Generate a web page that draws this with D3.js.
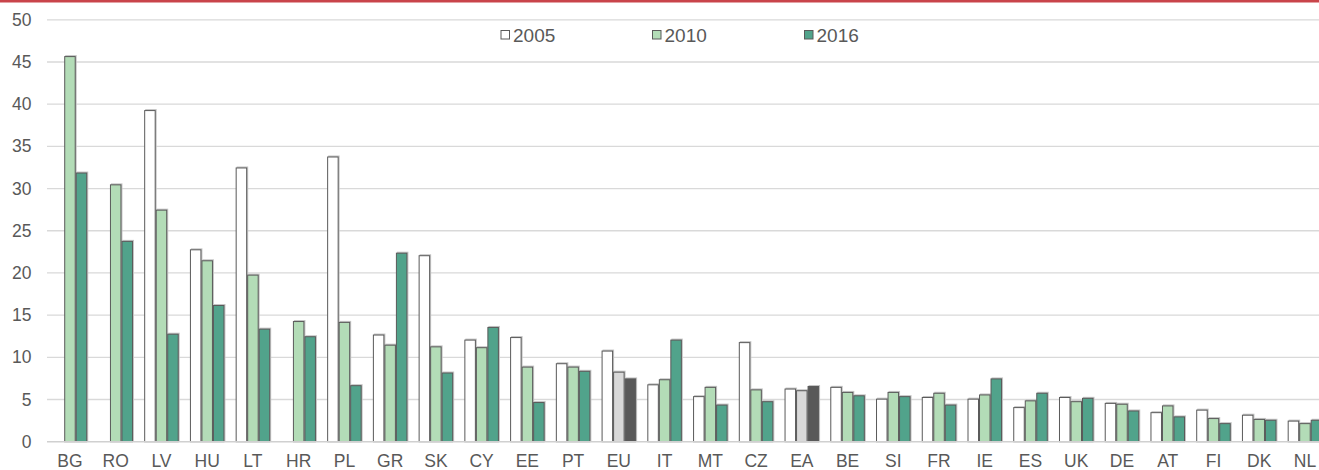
<!DOCTYPE html>
<html>
<head>
<meta charset="utf-8">
<script src="https://cdn.jsdelivr.net/npm/d3@7"></script>
<style>
  html, body { margin: 0; padding: 0; background: #fff; overflow: hidden; }
  svg { display: block; font-family: "Liberation Sans", Arial, sans-serif; }
</style>
</head>
<body>
<svg id="chart" width="1319" height="470"></svg>
<script>
// Countries in display order
const categories = ["BG","RO","LV","HU","LT","HR","PL","GR","SK","CY","EE","PT","EU","IT","MT","CZ","EA","BE","SI","FR","IE","ES","UK","DE","AT","FI","DK","NL"];
const seriesNames = ["2005", "2010", "2016"];
// Values per year (null = not available)
const values2005 = [null, null, 39.3, 22.8, 32.5, null, 33.8, 12.7, 22.1, 12.1, 12.4, 9.3, 10.8, 6.8, 5.4, 11.8, 6.3, 6.5, 5.1, 5.3, 5.1, 4.1, 5.3, 4.6, 3.5, 3.8, 3.2, 2.5];
const values2010 = [45.7, 30.5, 27.5, 21.5, 19.8, 14.3, 14.2, 11.5, 11.3, 11.2, 8.9, 8.9, 8.3, 7.4, 6.5, 6.2, 6.1, 5.9, 5.9, 5.8, 5.6, 4.9, 4.8, 4.5, 4.3, 2.8, 2.7, 2.2];
const values2016 = [31.9, 23.8, 12.8, 16.2, 13.4, 12.5, 6.7, 22.4, 8.2, 13.6, 4.7, 8.4, 7.5, 12.1, 4.4, 4.8, 6.6, 5.5, 5.4, 4.4, 7.5, 5.8, 5.2, 3.7, 3.0, 2.2, 2.6, 2.6];
const yTicks = [0, 5, 10, 15, 20, 25, 30, 35, 40, 45, 50];

const series = [values2005, values2010, values2016];
const fills = ["#ffffff", "#b3dcb7", "#51a38b"];
const aggFills = ["#ffffff", "#d9d9d9", "#595959"];
const aggregates = new Set(["EU", "EA"]);

const svg = d3.select("#chart");
const W = 1319, H = 470;

// Accent rule across the top
svg.append("rect").attr("x", 0).attr("y", 0).attr("width", W).attr("height", 2.5).attr("fill", "#c9444a");

const step = 45.74;
const x0 = 47.1;
const x = d3.scaleBand()
  .domain(categories)
  .range([x0, x0 + categories.length * step])
  .paddingInner(0.245)
  .paddingOuter(0.1225);
const xs = d3.scaleBand().domain(seriesNames).range([0, x.bandwidth()]);
const y = d3.scaleLinear().domain([0, 50]).range([441.7, 19.8]);

// Gridlines
svg.append("g").selectAll("line").data(yTicks.filter(t => t > 0)).join("line")
  .attr("x1", 47).attr("x2", W)
  .attr("y1", d => y(d)).attr("y2", d => y(d))
  .attr("stroke", "#d9d9d9").attr("stroke-width", 1.3);

// Y axis labels
const yAxis = d3.axisLeft(y).tickValues(yTicks).tickSize(0).tickPadding(0);
const gy = svg.append("g").attr("transform", "translate(31.5,0)").call(yAxis);
gy.select(".domain").remove();
gy.selectAll("text").attr("fill", "#595959").style("font-size", "17.5px")
  .style("font-family", "Liberation Sans, Arial, sans-serif");

// Bars
const barData = [];
categories.forEach((c, i) => {
  series.forEach((vals, s) => {
    if (vals[i] != null) barData.push({ c, s, v: vals[i] });
  });
});

const gBars = svg.append("g");
// soft shadow behind each bar
gBars.selectAll("rect.shadow").data(barData).join("rect")
  .attr("class", "shadow")
  .attr("x", d => x(d.c) + xs(seriesNames[d.s]) + 1)
  .attr("y", d => y(d.v) - 1)
  .attr("width", xs.bandwidth())
  .attr("height", d => y(0) - y(d.v) + 1)
  .attr("fill", "#c4c4c4");
gBars.selectAll("rect.bar").data(barData).join("rect")
  .attr("class", "bar")
  .attr("x", d => x(d.c) + xs(seriesNames[d.s]) + 0.5)
  .attr("y", d => y(d.v) + 0.5)
  .attr("width", xs.bandwidth() - 1)
  .attr("height", d => Math.max(0, y(0) - y(d.v) - 0.5))
  .attr("fill", d => aggregates.has(d.c) ? aggFills[d.s] : fills[d.s])
  .attr("stroke", "#5a5a5a")
  .attr("stroke-width", 1);

// Baseline
svg.append("line").attr("x1", 47).attr("x2", W)
  .attr("y1", y(0)).attr("y2", y(0))
  .attr("stroke", "#d0d0d0").attr("stroke-width", 1.5);

// X axis labels
const xAxis = d3.axisBottom(x).tickSize(0).tickPadding(0);
const gx = svg.append("g").attr("transform", "translate(0,455)").call(xAxis);
gx.select(".domain").remove();
gx.selectAll("text").attr("fill", "#595959").style("font-size", "17.5px")
  .style("font-family", "Liberation Sans, Arial, sans-serif");

// Legend
const legendX = [500.5, 652, 804];
const lg = svg.append("g").selectAll("g").data(seriesNames).join("g")
  .attr("transform", (d, i) => `translate(${legendX[i]},30)`);
lg.append("rect").attr("x", 0.5).attr("y", 0.5).attr("width", 8.5).attr("height", 8.5)
  .attr("fill", (d, i) => fills[i]).attr("stroke", "#5a5a5a").attr("stroke-width", 1);
lg.append("text").attr("x", 12.5).attr("y", 11.5)
  .attr("fill", "#595959").style("font-size", "19px").text(d => d);
</script>
</body>
</html>
